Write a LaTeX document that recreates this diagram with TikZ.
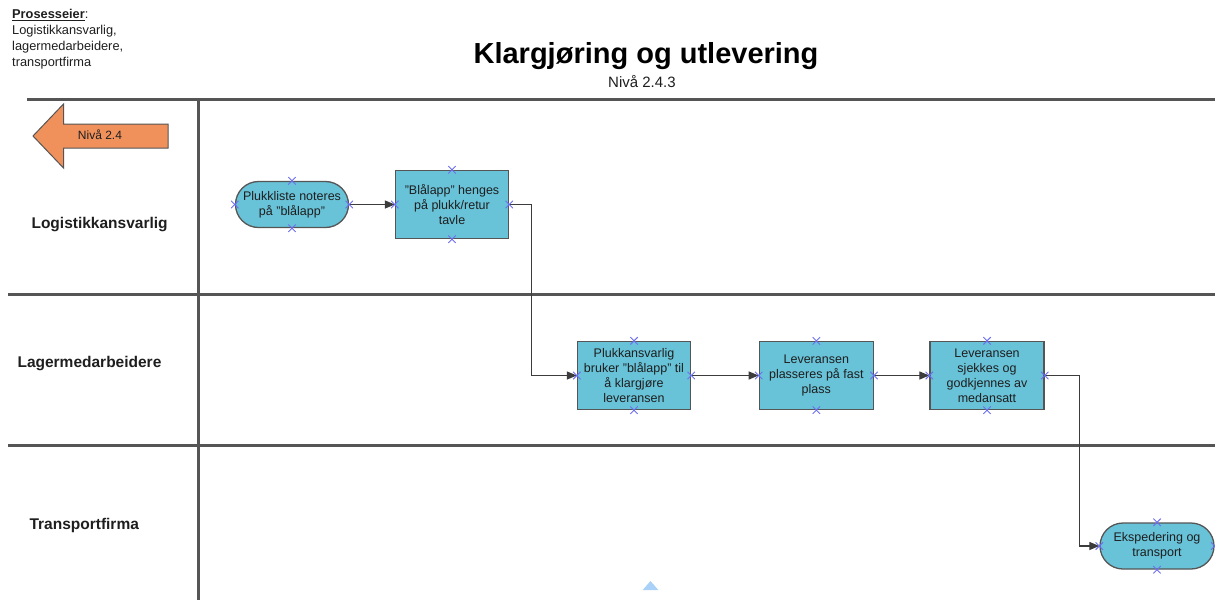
\documentclass[tikz,border=0pt]{standalone}
\usepackage{fontspec}
\setmainfont{Liberation Sans}
\usetikzlibrary{arrows.meta,shapes.misc}
\definecolor{boxfill}{RGB}{104,195,217}
\definecolor{boxline}{RGB}{85,85,85}
\definecolor{laneline}{RGB}{85,85,85}
\definecolor{flowline}{RGB}{60,60,60}
\definecolor{mkblue}{RGB}{110,110,240}
\definecolor{navorange}{RGB}{240,145,92}
\definecolor{txt}{RGB}{30,30,30}
\definecolor{tri}{RGB}{170,209,247}
% straight double quote
\newcommand\sq{\char34\relax}
\begin{document}
\begin{tikzpicture}[x=1pt,y=-1pt,
  lane/.style={draw=laneline,line width=3pt},
  proc/.style={draw=boxline,line width=1.3pt,fill=boxfill,minimum width=113pt,
    minimum height=68pt,align=center,inner sep=0pt,
    font=\fontsize{12.5}{15}\selectfont,text=txt},
  term/.style={proc,minimum height=46pt,rounded corners=23pt},
  flow/.style={draw=flowline,line width=1.2pt,-{Triangle[length=10pt,width=8pt]}},
  mk/.style={cross out,draw=mkblue,line width=0.9pt,minimum size=6.5pt,inner sep=0pt},
  lanelabel/.style={font=\fontsize{15.5}{18}\bfseries\selectfont,text=txt,anchor=base west}
]
\useasboundingbox (0,0) rectangle (1215,600);

% owner note
\node[anchor=north west,align=left,inner sep=0pt,text=txt,
  font=\fontsize{12.8}{16}\selectfont] (owner) at (12,9)
  {\underline{\textbf{Prosesseier}}:\\Logistikkansvarlig,\\lagermedarbeidere,\\transportfirma};

% heading
\node[anchor=base,font=\fontsize{29}{34}\bfseries\selectfont,text=black] (title) at (646,63)
  {Klargjøring og utlevering};
\node[anchor=base,font=\fontsize{15}{18}\selectfont,text=txt] (level) at (642,87) {Nivå 2.4.3};

% swimlane grid
\draw[lane] (27,99) -- (1215,99);
\draw[lane] (8,294) -- (1215,294);
\draw[lane] (8,445) -- (1215,445);
\draw[lane] (198,99) -- (198,600);

% lane names
\node[lanelabel] (l1) at (28,228) {Logistikkansvarlig};
\node[lanelabel] (l2) at (14,367) {Lagermedarbeidere};
\node[lanelabel] (l3) at (26,529) {Transportfirma};

% back arrow to level 2.4
\draw[draw=boxline,line width=1pt,fill=navorange]
  (33,136) -- (63.5,104) -- (63.5,124) -- (168,124) -- (168,148)
  -- (63.5,148) -- (63.5,168) -- cycle;
\node[font=\fontsize{12}{14}\selectfont,text=txt] (back) at (100,135) {Nivå 2.4};

% process steps
\node[term,minimum width=113pt] (A) at (292,204.5) {Plukkliste noteres\\på \sq blålapp\sq};
\node[proc] (B) at (452,204.5) {\sq Blålapp\sq{} henges\\på plukk/retur\\tavle};
\node[proc] (C) at (634,375.5) {Plukkansvarlig\\bruker \sq blålapp\sq{} til\\å klargjøre\\leveransen};
\node[proc,minimum width=114pt] (D) at (816.3,375.5) {Leveransen\\plasseres på fast\\plass};
\node[proc,minimum width=114pt] (E) at (987,375.5) {Leveransen\\sjekkes og\\godkjennes av\\medansatt};
\node[term,minimum width=114pt] (F) at (1157,546) {Ekspedering og\\transport};

% flow
\draw[flow] (A.east) -- (B.west);
\draw[flow] (B.east) -- ++(22,0) |- (C.west);
\draw[flow] (C.east) -- (D.west);
\draw[flow] (D.east) -- (E.west);
\draw[flow] (E.east) -- ++(35,0) |- (F.west);

% connection points
\foreach \n in {A,B,C,D,E,F}
  \foreach \a in {north,south,east,west}
    \node[mk] at (\n.\a) {};

% scroll marker
\fill[tri] (642.7,590) -- (650.5,581) -- (658.3,590) -- cycle;
\end{tikzpicture}
\end{document}
